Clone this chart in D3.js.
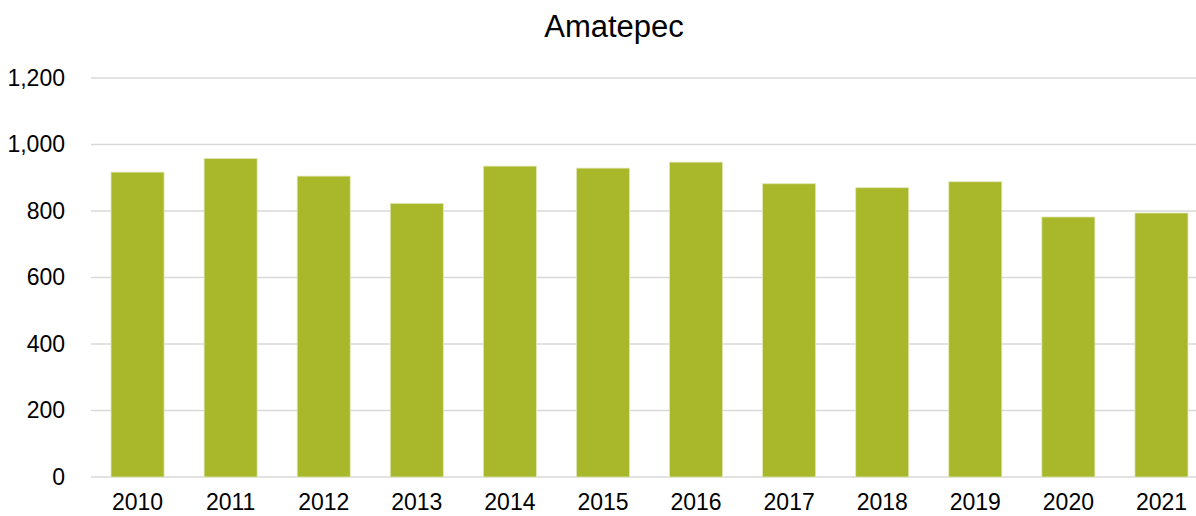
<!DOCTYPE html>
<html>
<head>
<meta charset="utf-8">
<script src="https://cdn.jsdelivr.net/npm/d3@7"></script>
<style>
  body { margin: 0; background: #fff; }
  svg { display: block; font-family: "Liberation Sans", Arial, sans-serif; }
</style>
</head>
<body>
<svg width="1196" height="516"></svg>
<script>
// values
var years = ["2010", "2011", "2012", "2013", "2014", "2015", "2016", "2017", "2018", "2019", "2020", "2021"];
var values = [917, 958, 905, 823, 935, 929, 947, 882, 870, 888, 782, 794];
var yTicks = [0, 200, 400, 600, 800, 1000, 1200];
var title = "Amatepec";

var width = 1196, height = 516;
var margin = { top: 78, right: -12, bottom: 39, left: 91 };

var svg = d3.select("svg");

var x = d3.scaleBand()
    .domain(years)
    .range([margin.left, width - margin.right])
    .paddingInner(0.43)
    .paddingOuter(0.215);

var y = d3.scaleLinear()
    .domain([0, 1200])
    .range([height - margin.bottom, margin.top]);

// gridlines
svg.append("g")
    .selectAll("line")
    .data(yTicks)
    .enter()
    .append("line")
    .attr("x1", margin.left)
    .attr("x2", width)
    .attr("y1", function (d) { return y(d); })
    .attr("y2", function (d) { return y(d); })
    .attr("stroke", "#d9d9d9")
    .attr("stroke-width", 1.5);

// y axis labels
var yAxis = svg.append("g")
    .attr("transform", "translate(" + (margin.left - 26) + ",0)")
    .call(d3.axisLeft(y).tickValues(yTicks).tickSize(0).tickPadding(0).tickFormat(d3.format(",")));
yAxis.select(".domain").remove();
yAxis.selectAll("text")
    .attr("font-size", "23px")
    .attr("fill", "#000")
    .attr("font-family", "Liberation Sans, Arial, sans-serif");

// bars
svg.append("g")
    .selectAll("rect")
    .data(values)
    .enter()
    .append("rect")
    .attr("x", function (d, i) { return x(years[i]); })
    .attr("width", x.bandwidth())
    .attr("y", function (d) { return y(d); })
    .attr("height", function (d) { return y(0) - y(d); })
    .attr("fill", "#a8b82a")
    .attr("stroke", "#e2e8b8")
    .attr("stroke-width", 0.8);

// x axis labels
var xAxis = svg.append("g")
    .attr("transform", "translate(0," + y(0) + ")")
    .call(d3.axisBottom(x).tickSize(0).tickPadding(0));
xAxis.select(".domain").remove();
xAxis.selectAll("text")
    .attr("dy", null)
    .attr("y", 33)
    .attr("font-size", "23px")
    .attr("fill", "#000")
    .attr("font-family", "Liberation Sans, Arial, sans-serif");

// title
svg.append("text")
    .attr("x", 614)
    .attr("y", 37)
    .attr("text-anchor", "middle")
    .attr("font-size", "31px")
    .attr("fill", "#000")
    .text(title);
</script>
</body>
</html>
